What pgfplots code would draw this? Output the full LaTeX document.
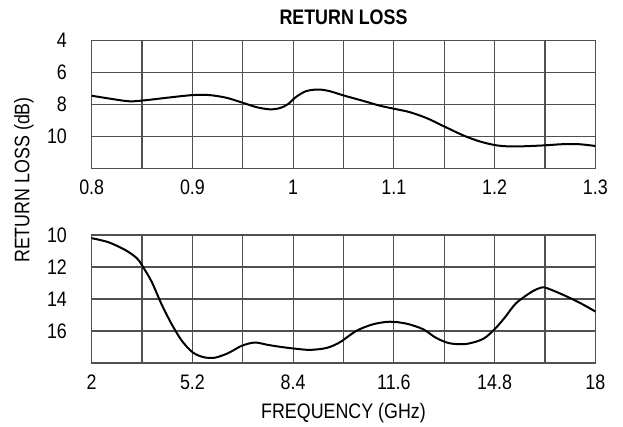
\documentclass[border=0pt]{standalone}
\usepackage{fontspec}
\setmainfont{Liberation Sans}[FakeStretch=0.85]
\usepackage{pgfplots}
\pgfplotsset{compat=1.18}
\definecolor{gridc}{HTML}{505050}

\pgfplotstableread{
f dB
0.800 7.44
0.821 7.65
0.838 7.79
0.855 7.71
0.874 7.57
0.900 7.40
0.917 7.40
0.934 7.57
0.950 7.88
0.964 8.16
0.977 8.29
0.987 8.21
0.995 7.96
1.003 7.51
1.013 7.15
1.025 7.05
1.036 7.15
1.050 7.42
1.070 7.77
1.086 8.06
1.100 8.25
1.116 8.47
1.133 8.85
1.150 9.36
1.169 9.92
1.185 10.29
1.200 10.52
1.212 10.60
1.228 10.60
1.250 10.54
1.267 10.47
1.284 10.47
1.300 10.58
}\lowband

\pgfplotstableread{
f dB
2.00 10.20
2.53 10.45
3.06 10.93
3.43 11.44
3.60 11.90
3.90 12.90
4.22 14.33
4.54 15.57
4.86 16.60
5.20 17.32
5.54 17.63
5.91 17.67
6.34 17.38
6.76 16.93
7.18 16.72
7.60 16.87
8.03 17.00
8.40 17.09
8.93 17.18
9.46 17.06
9.88 16.71
10.41 15.99
10.94 15.58
11.47 15.42
12.00 15.54
12.53 15.89
12.95 16.44
13.38 16.77
13.90 16.81
14.43 16.50
14.80 15.89
15.12 15.17
15.48 14.27
15.98 13.55
16.30 13.28
16.49 13.34
16.99 13.75
17.50 14.23
18.00 14.78
}\highband

\begin{document}
\begin{tikzpicture}
\pgfplotsset{
  panel/.style={
    scale only axis,
    width=251.8pt, height=64pt,
    y dir=reverse,
    axis line style={gridc, line width=0.6pt},
    grid=major,
    major grid style={gridc, line width=0.6pt},
    major tick length=0pt,
    tick style={draw=none},
    /pgf/number format/assume math mode=true,
    tick label style={font=\fontsize{10.5}{12}\selectfont},
    xticklabel style={inner sep=0pt, anchor=north, yshift=-5.5pt},
    yticklabel style={inner sep=0pt, anchor=east, xshift=-12.2pt},
    clip=false,
  }
}
\path (-45.85pt,20.35pt) rectangle (265.65pt,-193.15pt);

\begin{axis}[panel,
  at={(0,0)}, anchor=north west,
  xmin=0.8, xmax=1.3, ymin=4, ymax=12,
  xtick={0.8,0.85,0.9,0.95,1,1.05,1.1,1.15,1.2,1.25,1.3},
  xticklabels={0.8,,0.9,,1,,1.1,,1.2,,1.3},
  ytick={4,6,8,10,12},
  yticklabels={4,6,8,10,},
  title={RETURN LOSS},
  title style={at={(axis description cs:0.5,1)}, anchor=base, yshift=2.3pt, inner sep=0pt, font=\fontsize{10.5}{12}\selectfont\bfseries},
]
\addplot[black, line width=1pt, smooth] table[x=f, y=dB] {\lowband};
\end{axis}

\begin{axis}[panel,
  at={(0,-97.15pt)}, anchor=north west,
  xmin=2, xmax=18, ymin=10, ymax=18,
  xtick={2,3.6,5.2,6.8,8.4,10,11.6,13.2,14.8,16.4,18},
  xticklabels={2,,5.2,,8.4,,11.6,,14.8,,18},
  ytick={10,12,14,16,18},
  yticklabels={10,12,14,16,},
  xlabel={FREQUENCY (GHz)},
  xlabel style={at={(axis description cs:0.5,0)}, anchor=base, inner sep=0pt, yshift=-27.5pt, font=\fontsize{10.5}{12}\selectfont},
]
\addplot[black, line width=1pt, smooth] table[x=f, y=dB] {\highband};
\end{axis}

\node[rotate=90, anchor=center, inner sep=0pt, font=\fontsize{10.5}{12}\selectfont] at (-33.85pt,-69.65pt) {RETURN LOSS (dB)};
\end{tikzpicture}
\end{document}
